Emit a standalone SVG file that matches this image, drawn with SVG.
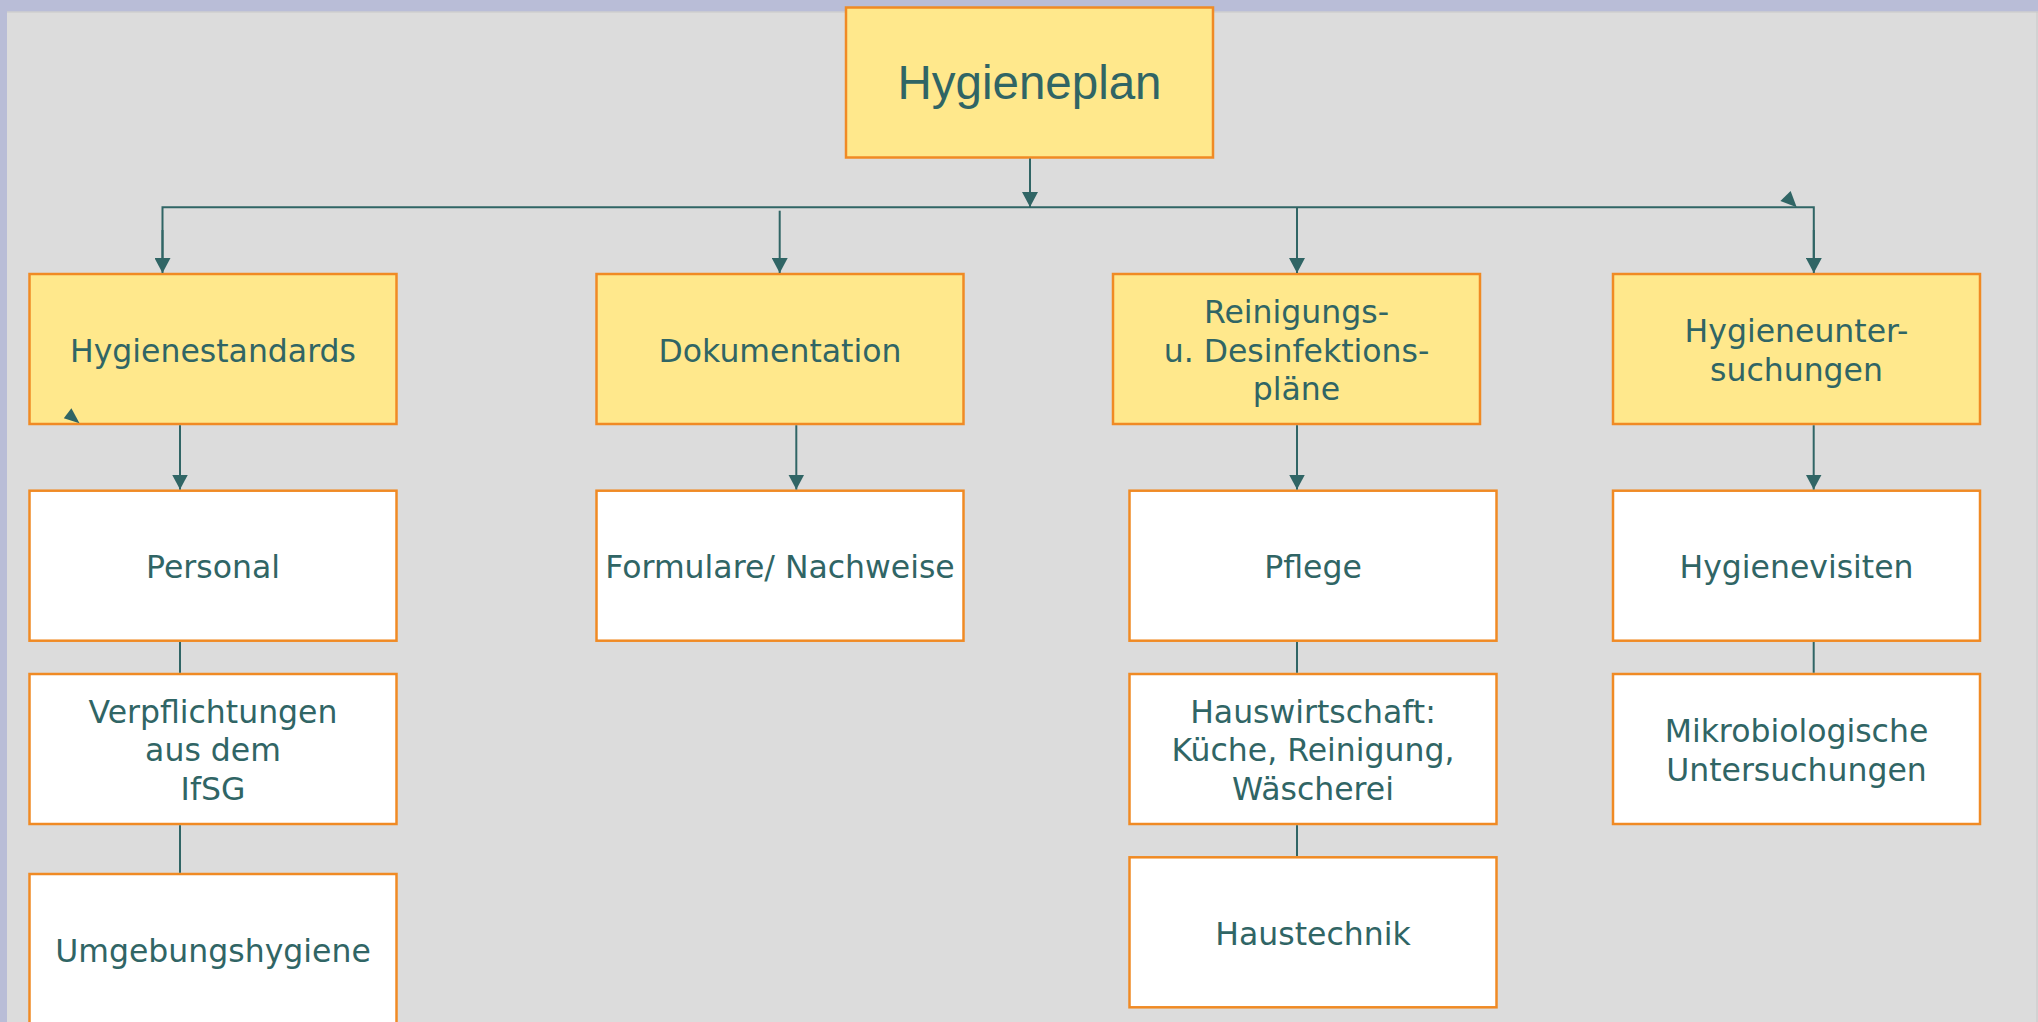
<svg xmlns="http://www.w3.org/2000/svg" width="2038" height="1022" viewBox="0 0 2038 1022">
  <style>
    .bg { fill: #DCDCDC; }
    .frame { fill: #B9BDD7; }
    .box-y { fill: #FFE88C; stroke: #F08A24; stroke-width: 2.5; }
    .box-w { fill: #FFFFFF; stroke: #F08A24; stroke-width: 2.5; }
    .lbl { font-family: "DejaVu Sans", Verdana, sans-serif; font-size: 31.5px; fill: #306565; text-anchor: middle; }
    .title { font-family: "Liberation Sans", Arial, sans-serif; font-size: 47.5px; fill: #306565; text-anchor: middle; }
    .conn { stroke: #306565; stroke-width: 2; fill: none; }
    .head { fill: #306565; }
  </style>
  <defs>
    <marker id="arr" viewBox="0 0 15 16" refX="15" refY="8" markerWidth="15" markerHeight="16" markerUnits="userSpaceOnUse" orient="auto">
      <path d="M0,0 L15,8 L0,16 Z" class="head"/>
    </marker>
  </defs>

  <rect x="0" y="0" width="2038" height="1022" class="frame"/>
  <rect x="7" y="11.5" width="2031" height="1011" class="bg"/>
  <line x1="7" y1="12" x2="2038" y2="12" stroke="#C8C8C8" stroke-width="1"/>
  <line x1="2037" y1="12" x2="2037" y2="1022" stroke="#C8C8C8" stroke-width="1"/>

  <g id="hygieneplan">
    <rect x="846" y="7.5" width="367" height="150" class="box-y"/>
    <text x="1029.5" y="99" class="title">Hygieneplan</text>
  </g>

  <g id="hygienestandards">
    <rect x="29.5" y="274" width="367" height="150" class="box-y"/>
    <text x="213" y="361.5" class="lbl">Hygienestandards</text>
  </g>
  <g id="dokumentation">
    <rect x="596.5" y="274" width="367" height="150" class="box-y"/>
    <text x="780" y="361.5" class="lbl">Dokumentation</text>
  </g>
  <g id="reinigungsplaene">
    <rect x="1113" y="274" width="367" height="150" class="box-y"/>
    <text x="1296.5" y="323" class="lbl">Reinigungs-</text>
    <text x="1296.5" y="361.5" class="lbl">u. Desinfektions-</text>
    <text x="1296.5" y="400" class="lbl">pläne</text>
  </g>
  <g id="hygieneuntersuchungen">
    <rect x="1613" y="274" width="367" height="150" class="box-y"/>
    <text x="1796.5" y="342" class="lbl">Hygieneunter-</text>
    <text x="1796.5" y="380.5" class="lbl">suchungen</text>
  </g>

  <g id="personal">
    <rect x="29.5" y="490.7" width="367" height="150" class="box-w"/>
    <text x="213" y="577.5" class="lbl">Personal</text>
  </g>
  <g id="verpflichtungen">
    <rect x="29.5" y="674" width="367" height="150" class="box-w"/>
    <text x="213" y="722.5" class="lbl">Verpflichtungen</text>
    <text x="213" y="761" class="lbl">aus dem</text>
    <text x="213" y="799.5" class="lbl">IfSG</text>
  </g>
  <g id="umgebungshygiene">
    <rect x="29.5" y="874" width="367" height="150" class="box-w"/>
    <text x="213" y="961.5" class="lbl">Umgebungshygiene</text>
  </g>

  <g id="formulare">
    <rect x="596.5" y="490.7" width="367" height="150" class="box-w"/>
    <text x="780" y="577.5" class="lbl">Formulare/ Nachweise</text>
  </g>

  <g id="pflege">
    <rect x="1129.5" y="490.7" width="367" height="150" class="box-w"/>
    <text x="1313" y="577.5" class="lbl">Pflege</text>
  </g>
  <g id="hauswirtschaft">
    <rect x="1129.5" y="674" width="367" height="150" class="box-w"/>
    <text x="1313" y="722.5" class="lbl">Hauswirtschaft:</text>
    <text x="1313" y="761" class="lbl">Küche, Reinigung,</text>
    <text x="1313" y="799.5" class="lbl">Wäscherei</text>
  </g>
  <g id="haustechnik">
    <rect x="1129.5" y="857.3" width="367" height="150" class="box-w"/>
    <text x="1313" y="944.5" class="lbl">Haustechnik</text>
  </g>

  <g id="hygienevisiten">
    <rect x="1613" y="490.7" width="367" height="150" class="box-w"/>
    <text x="1796.5" y="577.5" class="lbl">Hygienevisiten</text>
  </g>
  <g id="mikrobiologische">
    <rect x="1613" y="674" width="367" height="150" class="box-w"/>
    <text x="1796.5" y="742" class="lbl">Mikrobiologische</text>
    <text x="1796.5" y="780.5" class="lbl">Untersuchungen</text>
  </g>

  <g id="connectors">
    <line x1="1030" y1="158.5" x2="1030" y2="207" class="conn" marker-end="url(#arr)"/>
    <polyline points="162.5,260 162.5,207.3 1813.8,207.3 1813.8,260" class="conn"/>
    <line x1="162.5" y1="230" x2="162.5" y2="273" class="conn" marker-end="url(#arr)"/>
    <line x1="779.7" y1="210.7" x2="779.7" y2="273" class="conn" marker-end="url(#arr)"/>
    <line x1="1297" y1="207" x2="1297" y2="273" class="conn" marker-end="url(#arr)"/>
    <line x1="1813.8" y1="230" x2="1813.8" y2="273" class="conn" marker-end="url(#arr)"/>
    <polygon points="1790.6,191 1780.4,201 1796.7,207.3" class="head"/>
    <line x1="180" y1="425.3" x2="180" y2="489.5" class="conn" marker-end="url(#arr)"/>
    <line x1="796.3" y1="425.3" x2="796.3" y2="489.5" class="conn" marker-end="url(#arr)"/>
    <line x1="1297" y1="425.3" x2="1297" y2="489.5" class="conn" marker-end="url(#arr)"/>
    <line x1="1813.7" y1="425.3" x2="1813.7" y2="489.5" class="conn" marker-end="url(#arr)"/>
    <polygon points="71.4,408.3 63.8,418.3 79.5,423.3" class="head"/>
    <line x1="180" y1="642" x2="180" y2="672.7" class="conn"/>
    <line x1="180" y1="825.3" x2="180" y2="872.7" class="conn"/>
    <line x1="1297" y1="642" x2="1297" y2="672.7" class="conn"/>
    <line x1="1297" y1="825.3" x2="1297" y2="856" class="conn"/>
    <line x1="1813.7" y1="642" x2="1813.7" y2="672.7" class="conn"/>
  </g>
</svg>
